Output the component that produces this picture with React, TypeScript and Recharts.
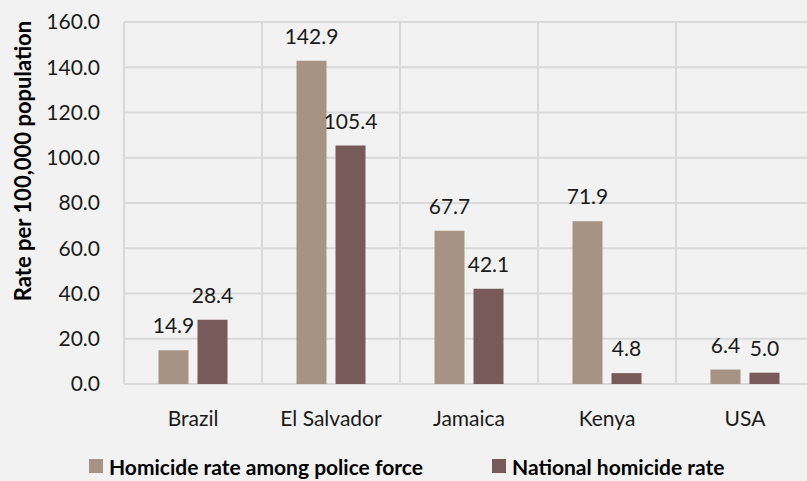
import React from 'react';
import { BarChart, Bar, XAxis, YAxis, CartesianGrid, Legend, LabelList } from 'recharts';

const countries = ['Brazil', 'El Salvador', 'Jamaica', 'Kenya', 'USA'];
const policeRate = [14.9, 142.9, 67.7, 71.9, 6.4];
const nationalRate = [28.4, 105.4, 42.1, 4.8, 5.0];
const yTicks = [0, 20, 40, 60, 80, 100, 120, 140, 160];
const seriesNames = ['Homicide rate among police force', 'National homicide rate'];
const yTitle = 'Rate per 100,000 population';

const data = countries.map((c, i) => ({ name: c, police: policeRate[i], national: nationalRate[i] }));

const FONT = 'Lato, "Open Sans", sans-serif';
const LIGHT = '#a69383';
const DARK = '#785a5b';
const GRID = '#d9d9d9';

const fmt = (v: any) => Number(v).toFixed(1);

const legendLeft = [89, 492];

const LegendContent = (props: any) => {
  const payload = props.payload || [];
  return (
    <div style={{ position: 'relative', height: 30, fontFamily: FONT, fontWeight: 700, fontSize: 21, color: '#000' }}>
      {payload.map((p: any, i: number) => (
        <div key={i} style={{ position: 'absolute', left: legendLeft[i], top: 0, height: 30, display: 'flex', alignItems: 'center', whiteSpace: 'nowrap' }}>
          <span style={{ display: 'inline-block', width: 14, height: 14, background: p.color, marginRight: 6 }} />
          <span>{p.value}</span>
        </div>
      ))}
    </div>
  );
};

export default function App() {
  return (
    <div style={{ position: 'absolute', left: 0, top: 0, width: 807, height: 481, overflow: 'hidden', background: '#f2f2f2' }}>
      <BarChart
        width={820}
        height={481}
        data={data}
        margin={{ top: 22, right: 6, left: 0, bottom: 47 }}
        barCategoryGap="25%"
        barGap={9}
      >
        <CartesianGrid
          stroke={GRID}
          strokeWidth={2}
          vertical={true}
          horizontal={true}
          verticalCoordinatesGenerator={(p: any) => {
            const off = p.offset;
            return [0, 1, 2, 3, 4, 5].map((i) => off.left + (i * off.width) / countries.length);
          }}
        />
        <XAxis
          dataKey="name"
          axisLine={false}
          tickLine={false}
          height={50}
          tickMargin={21}
          tick={{ fontFamily: FONT, fontSize: 21, fill: '#1a1a1a' }}
          interval={0}
        />
        <YAxis
          width={124}
          domain={[0, 160]}
          ticks={yTicks}
          tickFormatter={fmt}
          axisLine={false}
          tickLine={false}
          tickMargin={18}
          tick={{ fontFamily: FONT, fontSize: 21, fill: '#1a1a1a' }}
          label={() => (
            <text
              x={31}
              y={161}
              transform="rotate(-90, 31, 161)"
              textAnchor="middle"
              fontFamily={FONT}
              fontWeight={700}
              fontSize={22}
              fill="#000"
            >
              {yTitle}
            </text>
          )}
        />
        <Legend
          verticalAlign="middle"
          align="center"
          layout="horizontal"
          content={<LegendContent />}
          wrapperStyle={{ top: 451, left: 0, width: 807, height: 30 }}
        />
        <Bar dataKey="police" name={seriesNames[0]} fill={LIGHT} isAnimationActive={false}>
          <LabelList dataKey="police" position="top" offset={17} formatter={fmt} style={{ fontFamily: FONT, fontSize: 21, fill: '#1a1a1a' }} />
        </Bar>
        <Bar dataKey="national" name={seriesNames[1]} fill={DARK} isAnimationActive={false}>
          <LabelList dataKey="national" position="top" offset={17} formatter={fmt} style={{ fontFamily: FONT, fontSize: 21, fill: '#1a1a1a' }} />
        </Bar>
      </BarChart>
    </div>
  );
}
